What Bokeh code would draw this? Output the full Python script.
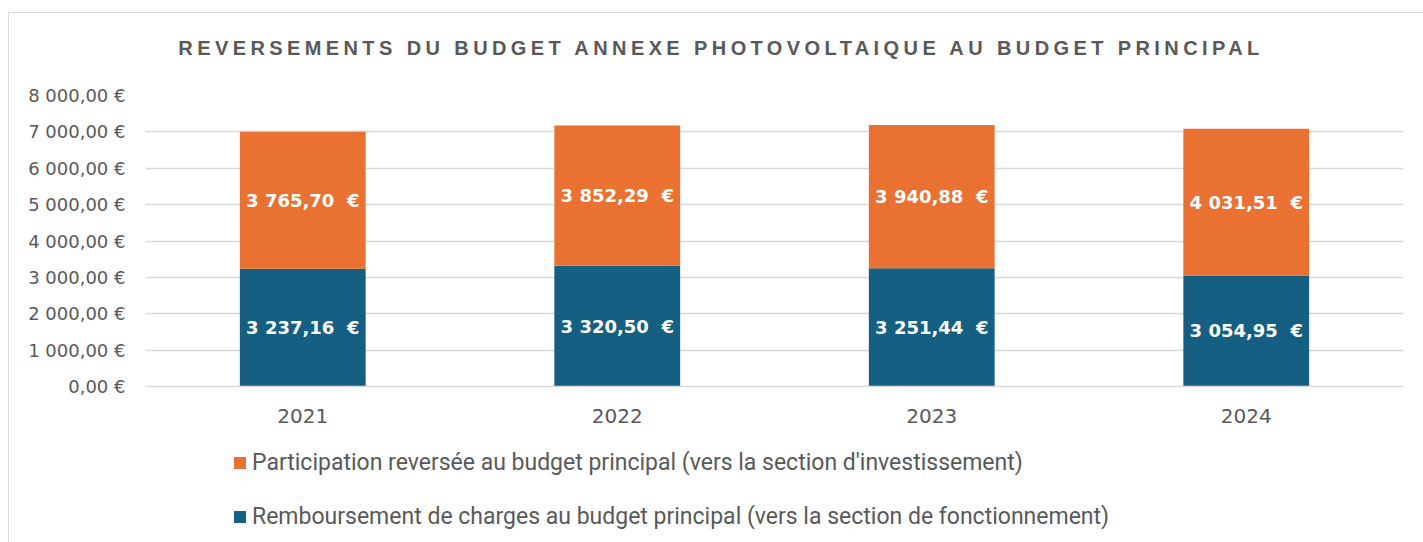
from bokeh.plotting import figure
from bokeh.models import (ColumnDataSource, FactorRange, FixedTicker, Legend, LegendItem,
                          LabelSet, Div)
from bokeh.core.properties import value
from bokeh.layouts import column
from bokeh.embed import file_html
from bokeh.resources import INLINE

title_text = "REVERSEMENTS DU BUDGET ANNEXE PHOTOVOLTAIQUE AU BUDGET PRINCIPAL"
years = ["2021", "2022", "2023", "2024"]
remboursement = [3237.16, 3320.50, 3251.44, 3054.95]
participation = [3765.70, 3852.29, 3940.88, 4031.51]
remb_labels = ["3 237,16 \u00a0€", "3 320,50 \u00a0€", "3 251,44 \u00a0€", "3 054,95 \u00a0€"]
part_labels = ["3 765,70 \u00a0€", "3 852,29 \u00a0€", "3 940,88 \u00a0€", "4 031,51 \u00a0€"]
y_ticks = [0, 1000, 2000, 3000, 4000, 5000, 6000, 7000, 8000]
y_tick_labels = ["0,00 €", "1 000,00 €", "2 000,00 €", "3 000,00 €", "4 000,00 €",
                 "5 000,00 €", "6 000,00 €", "7 000,00 €", "8 000,00 €"]
series_names = ["Participation reversée au budget principal (vers la section d'investissement)",
                "Remboursement de charges au budget principal (vers la section de fonctionnement)"]

BLUE = "#156082"
ORANGE = "#E97132"
W = 1414
DIV_H = 55

src = ColumnDataSource(dict(
    year=years,
    remb=remboursement,
    part=participation,
    remb_mid=[r / 2 for r in remboursement],
    part_mid=[r + p / 2 for r, p in zip(remboursement, participation)],
    remb_lab=remb_labels,
    part_lab=part_labels,
))

p = figure(x_range=FactorRange(*years), y_range=(0, 8000),
           width=W, height=358, output_backend="svg", toolbar_location=None,
           min_border_left=136, min_border_right=20, min_border_top=17, min_border_bottom=50)
p.outline_line_color = None
p.background_fill_color = "white"
p.border_fill_color = "white"

r = p.vbar_stack(["remb", "part"], x="year", width=0.4, source=src,
                 color=[BLUE, ORANGE], line_color=None)

for ycol, tcol in (("remb_mid", "remb_lab"), ("part_mid", "part_lab")):
    p.add_layout(LabelSet(x="year", y=ycol, text=tcol, source=src,
                          text_align="center", text_baseline="middle", text_color="white",
                          text_font_size="18px", text_font_style="bold",
                          text_font=value("DejaVu Sans")))

p.yaxis.ticker = FixedTicker(ticks=y_ticks)
p.yaxis.major_label_overrides = {t: l for t, l in zip(y_ticks, y_tick_labels)}
p.yaxis.axis_line_color = None
p.yaxis.major_tick_line_color = None
p.yaxis.minor_tick_line_color = None
p.yaxis.major_label_text_font = "DejaVu Sans"
p.yaxis.major_label_text_font_size = "18px"
p.yaxis.major_label_text_color = "#595959"
p.yaxis.major_label_standoff = 14

p.xaxis.axis_line_color = "#d9d9d9"
p.xaxis.axis_line_width = 1.5
p.xaxis.major_tick_line_color = None
p.xaxis.minor_tick_line_color = None
p.xaxis.major_label_text_font = "DejaVu Sans"
p.xaxis.major_label_text_font_size = "20px"
p.xaxis.major_label_text_color = "#595959"
p.xaxis.major_label_standoff = 16

p.xgrid.grid_line_color = None
p.ygrid.grid_line_color = "#d9d9d9"
p.ygrid.grid_line_width = 1.5

# legend panel (separate figure so the legend is not clipped by the plot frame)
lg = figure(width=W, height=110, x_range=(0, 1), y_range=(0, 1),
            output_backend="svg", toolbar_location=None,
            min_border_left=0, min_border_right=0, min_border_top=0, min_border_bottom=0)
lg.axis.visible = False
lg.grid.visible = False
lg.outline_line_color = None
# zero-height bars: only used to give the legend its coloured squares
r_part = lg.vbar(x=[0], bottom=[0], top=[0], width=0, color=ORANGE, line_color=None)
r_remb = lg.vbar(x=[0], bottom=[0], top=[0], width=0, color=BLUE, line_color=None)

legend = Legend(items=[LegendItem(label=series_names[0], renderers=[r_part]),
                       LegendItem(label=series_names[1], renderers=[r_remb])],
                location=(87, 16), orientation="vertical",
                label_text_font="Roboto", label_text_font_size="23px",
                label_text_color="#595959", glyph_width=15, glyph_height=15,
                label_height=28, spacing=26, padding=0, margin=0, label_standoff=5,
                border_line_color=None, background_fill_alpha=0)
lg.add_layout(legend)

title = Div(text=title_text, width=W, height=DIV_H,
            styles={"text-align": "center", "font-family": "Liberation Sans",
                    "font-weight": "bold", "font-size": "20px", "letter-spacing": "4.4px",
                    "color": "#595959", "padding-top": "16px", "box-sizing": "border-box",
                    "width": f"{W}px", "background": "white"})

layout = column(title, p, lg, spacing=0,
                styles={"border-top": "1px solid #d9d9d9", "border-left": "1px solid #d9d9d9",
                        "margin-top": "12px", "margin-left": "8px"})

open("out.html", "w").write(file_html(layout, INLINE))
